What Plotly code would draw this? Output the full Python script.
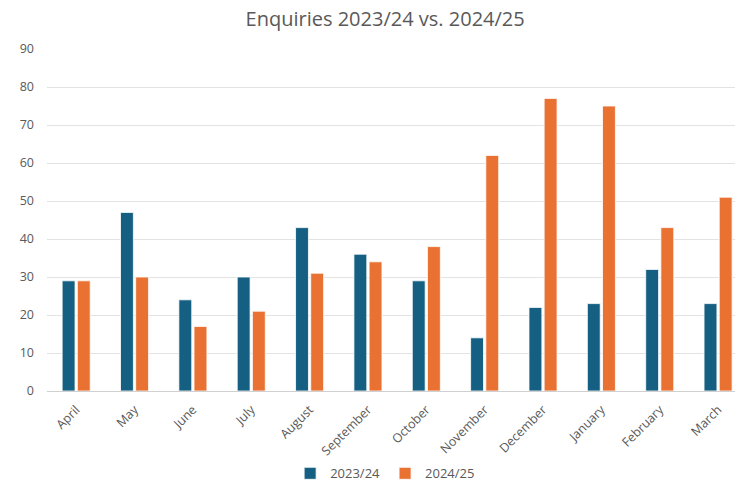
import plotly.graph_objects as go

months = ["April", "May", "June", "July", "August", "September", "October",
          "November", "December", "January", "February", "March"]
enq_2324 = [29, 47, 24, 30, 43, 36, 29, 14, 22, 23, 32, 23]
enq_2425 = [29, 30, 17, 21, 31, 34, 38, 62, 77, 75, 43, 51]
y_ticks = [0, 10, 20, 30, 40, 50, 60, 70, 80, 90]

FONT = "Open Sans, Roboto, sans-serif"
GREY = "#595959"

fig = go.Figure()
fig.add_trace(go.Bar(x=list(range(len(months))), y=enq_2324, name="2023/24",
                     marker=dict(color="#156082", line=dict(color="white", width=0.8))))
fig.add_trace(go.Bar(x=list(range(len(months))), y=enq_2425, name="2024/25",
                     marker=dict(color="#E97132", line=dict(color="white", width=0.8))))

fig.update_layout(
    width=735, height=484,
    margin=dict(l=47, r=0, t=49, b=93, autoexpand=False),
    paper_bgcolor="white", plot_bgcolor="white",
    barmode="group", bargap=0.48, bargroupgap=0.15,
    title=dict(text="Enquiries 2023/24 vs. 2024/25", x=0.524, xanchor="center",
               y=0.96, yanchor="middle", font=dict(family=FONT, size=20, color=GREY)),
    font=dict(family=FONT, color=GREY, size=12),
    showlegend=True,
    legend=dict(orientation="h", x=0.524, xanchor="center", xref="container",
                y=0.022, yanchor="middle", yref="container", itemwidth=30,
                bgcolor="rgba(0,0,0,0)",
                font=dict(family=FONT, size=13, color=GREY), traceorder="normal"),
    xaxis=dict(tickmode="array", tickvals=list(range(len(months))), ticktext=months,
               range=[-0.5, 11.29], tickangle=-45, showgrid=False, showline=False,
               ticks="", tickfont=dict(size=12.5, color=GREY), automargin=False,
               ticklabelstandoff=8),
    yaxis=dict(range=[0, 90], tickvals=y_ticks, showgrid=True, gridcolor="#E3E3E3",
               gridwidth=1, zeroline=True, zerolinecolor="#D0D0D0", zerolinewidth=1,
               ticks="", tickfont=dict(size=12.5, color=GREY), automargin=False,
               ticklabelstandoff=12),
)

fig.write_html("out.html")
